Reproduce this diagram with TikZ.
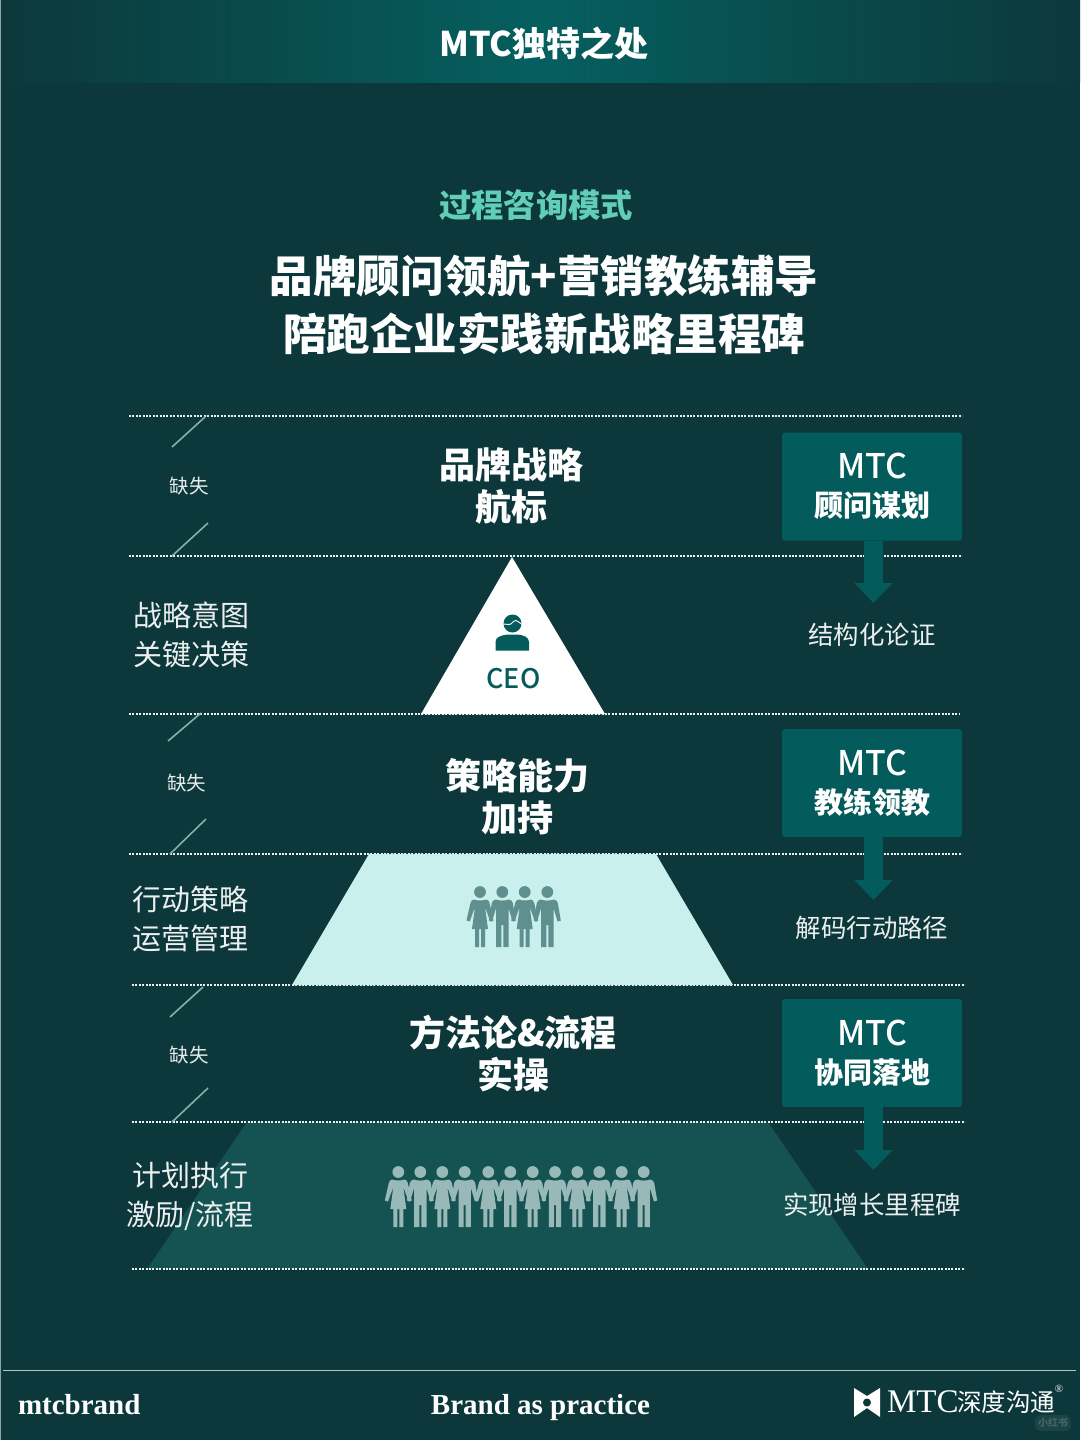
\documentclass[tikz,border=0pt]{standalone}
\usepackage{fontspec}
\setmainfont{Noto Sans CJK SC}
\newfontfamily\mediumface{Noto Sans CJK SC Medium}
\newfontfamily\serifface{Liberation Serif}
\usetikzlibrary{arrows.meta,calc}
\definecolor{bgdark}{HTML}{0C383B}
\definecolor{teal}{HTML}{045B5B}
\definecolor{headmid}{HTML}{065F5F}
\definecolor{mint}{HTML}{62CEBA}
\definecolor{pale}{HTML}{C9F0EC}
\definecolor{lowtier}{HTML}{145352}
\definecolor{slashc}{HTML}{7FB3AC}
\definecolor{peopleA}{HTML}{5F8F8E}
\definecolor{peopleB}{HTML}{98B9B8}
\definecolor{edgec}{HTML}{8FA5A6}
\newcommand{\fs}[2]{\fontsize{#1}{#2}\selectfont}
\tikzset{
  x=1pt,y=-1pt,
  txt/.style={inner sep=0pt,outer sep=0pt,align=center,text=white},
  tier/.style={txt,font=\fs{36}{42}\bfseries},
  side/.style={txt,text=white!92!bgdark,font=\fs{29}{39}},
  miss/.style={txt,text=white!90!bgdark,font=\fs{19.5}{24}},
  result/.style={txt,text=white!92!bgdark,font=\fs{25.4}{30}},
  mtcbox/.style={txt,fill=teal,rounded corners=3pt,minimum width=180,minimum height=108,font=\fs{29}{38}\bfseries},
  dotline/.style={white!92!bgdark,line width=2.3pt,dash pattern=on 2pt off 1.4pt},
  slash/.style={slashc,line width=1.6pt},
  flow/.style={teal,line width=19pt,-{Triangle[width=37pt,length=20pt]},shorten >=0pt},
  man/.pic={
    \fill (0,0) circle[radius=5.9];
    \fill (-7,7.5) to[out=-15,in=195] (7,7.5) to[out=-15,in=110] (10.5,11) -- (13.5,28.5) -- (10.3,29.5) -- (6.2,16)
      -- (6.2,55) -- (1,55) -- (1,33) -- (-1,33) -- (-1,55) -- (-6.2,55) -- (-6.2,16)
      -- (-10.3,29.5) -- (-13.5,28.5) -- (-10.5,11) to[out=70,in=195] cycle;
  },
  woman/.pic={
    \fill (0,0) circle[radius=5.9];
    \fill (-6.5,7.5) to[out=-15,in=195] (6.5,7.5) to[out=-15,in=110] (9.5,11) -- (13.5,28.5) -- (10.3,29.5) -- (5,15)
      -- (8,37) -- (5,37) -- (5,55) -- (1,55) -- (1,37) -- (-1,37) -- (-1,55) -- (-5,55) -- (-5,37) -- (-8,37) -- (-5,15)
      -- (-10.3,29.5) -- (-13.5,28.5) -- (-9.5,11) to[out=70,in=195] cycle;
  },
}
\begin{document}
\begin{tikzpicture}
\useasboundingbox (0,0) rectangle (1080,1440);
\fill[bgdark] (0,0) rectangle (1080,1440);
\fill[edgec] (0,0) rectangle (1.2,1440);
% header
\shade[left color=bgdark,right color=bgdark,middle color=headmid] (1.2,0) rectangle (1080,82);
\node[txt,font=\fs{34}{40}\bfseries] (title) at (544,43) {MTC独特之处};
\node[txt,text=mint,font=\fs{32.3}{38}\bfseries] (sub) at (536,205) {过程咨询模式};
\node[txt,font=\fs{43.5}{58}\bfseries] (head) at (544,305) {品牌顾问领航+营销教练辅导\\陪跑企业实践新战略里程碑};
% tier shapes
\fill[lowtier] (247,1122) -- (768,1122) -- (868,1269) -- (147,1269) -- cycle;
% dotted lines
\coordinate (l1a) at (129,416); \coordinate (l1b) at (962,416);
\coordinate (l2a) at (129,556); \coordinate (l2b) at (962,556);
\coordinate (l3a) at (129,714); \coordinate (l3b) at (959,714);
\coordinate (l4a) at (129,854); \coordinate (l4b) at (962,854);
\coordinate (l5a) at (132,985); \coordinate (l5b) at (965,985);
\coordinate (l6a) at (132,1122); \coordinate (l6b) at (965,1122);
\coordinate (l7a) at (132,1269); \coordinate (l7b) at (965,1269);
\foreach \i in {1,...,7} {\draw[dotline] (l\i a) -- (l\i b);}
% slashes
\coordinate (s1a) at (205,417); \coordinate (s1b) at (172,447);
\coordinate (s2a) at (208,523); \coordinate (s2b) at (172,556);
\coordinate (s3a) at (201,713); \coordinate (s3b) at (168,741);
\coordinate (s4a) at (206,819); \coordinate (s4b) at (170,854);
\coordinate (s5a) at (203,987); \coordinate (s5b) at (170,1017);
\coordinate (s6a) at (208,1088); \coordinate (s6b) at (172,1122);
\foreach \i in {1,...,6} {\draw[slash] (s\i a) -- (s\i b);}
% pyramid
\fill[white] (512,557) -- (605,714) -- (421,714) -- cycle;
\fill[pale] (369,854) -- (656,854) -- (733,985) -- (292,985) -- cycle;
% CEO icon
\fill[teal] (512.5,623.5) circle[radius=9];
\draw[white,line width=0.9pt] (503.5,624) to[out=-10,in=180] (509,624.5) to[out=0,in=180] (516,620.5) to[out=0,in=170] (521.5,624);
\fill[teal] (495.5,650.5) -- (495.5,642) to[out=90,in=190] (507,634.5) -- (518,634.5) to[out=-10,in=90] (529,642) -- (529,650.5) -- cycle;
\node[txt,text=teal,font=\mediumface\fs{27}{32}] (ceo) at (513.5,678.5) {CEO};
% people
\pic[fill=peopleA] at (480,892) {woman};
\pic[fill=peopleA] at (502.3,892) {man};
\pic[fill=peopleA] at (524.7,892) {woman};
\pic[fill=peopleA] at (547.3,892) {man};
\foreach \px/\kind in {398.3/woman,420.3/man,442.3/woman,464.7/man,488.3/woman,510.3/man,532.7/woman,555/man,577.3/woman,599.3/man,621.7/woman,643.7/man}
  {\pic[fill=peopleB] at (\px,1172) {\kind};}
% tier titles
\node[tier] (t1) at (511,486) {品牌战略\\航标};
\node[tier] (t2) at (517,797) {策略能力\\加持};
\node[tier] (t3) at (513,1054) {方法论\&流程\\实操};
% left labels
\node[miss] (m1) at (189,486) {缺失};
\node[miss] (m2) at (186.5,783) {缺失};
\node[miss] (m3) at (189,1055) {缺失};
\node[side] (a1) at (191,635) {战略意图\\关键决策};
\node[side] (a2) at (190,919) {行动策略\\运营管理};
\node[side] (a3) at (190,1196) {计划执行\\激励/流程};
% right boxes
\node[mtcbox] (b1) at (872,486.5) {{\mdseries\mediumface\fs{34}{38}MTC}\\[-0.5pt]顾问谋划};
\node[mtcbox] (b2) at (872,783) {{\mdseries\mediumface\fs{34}{38}MTC}\\[-0.5pt]教练领教};
\node[mtcbox] (b3) at (872,1053) {{\mdseries\mediumface\fs{34}{38}MTC}\\[-0.5pt]协同落地};
\node[result] (r1) at (872,635) {结构化论证};
\node[result] (r2) at (872,928) {解码行动路径};
\node[result] (r3) at (872,1205) {实现增长里程碑};
\coordinate (e1) at (873.5,603);
\coordinate (e2) at (873.5,900);
\coordinate (e3) at (873.5,1170);
\draw[flow] (b1.south -| e1) -- (e1);
\draw[flow] (b2.south -| e2) -- (e2);
\draw[flow] (b3.south -| e3) -- (e3);
% footer
\coordinate (fa) at (3,1370.5); \coordinate (fb) at (1076,1370.5);
\draw[white!70!bgdark,line width=1.3pt] (fa) -- (fb);
\node[txt,anchor=west,font=\serifface\fs{29}{34}\bfseries] (brand) at (18,1405) {mtcbrand};
\node[txt,font=\serifface\fs{29}{34}\bfseries] (motto) at (540.5,1408) {Brand as practice};
\fill[white] (854,1388) -- (867,1396) -- (880,1388) -- (880,1417) -- (867,1408) -- (854,1417) -- cycle;
\fill[bgdark] (867,1402.5) circle[radius=4];
\node[txt,anchor=west,font=\serifface\fs{33}{36}] (logo) at (887,1402) {MTC};
\node[txt,anchor=west,font=\fs{24.5}{30}] (logocn) at (957,1402) {深度沟通};
\node[txt,font=\serifface\fs{11}{12}] (reg) at (1059,1389) {®};
\node[txt,fill=white!6!bgdark,rounded corners=6pt,minimum width=36,minimum height=16,text=white!22!bgdark,font=\fs{10}{12}\bfseries] (wm) at (1053,1423) {小红书};
\end{tikzpicture}
\end{document}
